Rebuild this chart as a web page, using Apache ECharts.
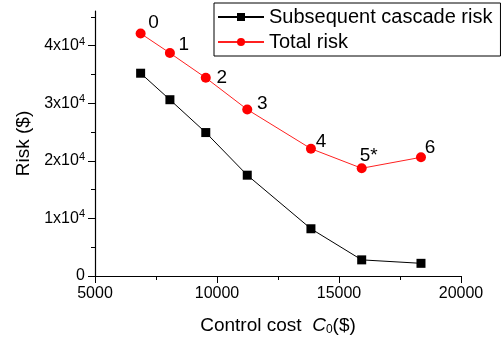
<!DOCTYPE html>
<html>
<head>
<meta charset="utf-8">
<script src="https://cdn.jsdelivr.net/npm/echarts@6/dist/echarts.min.js"></script>
<style>
  html, body { margin: 0; padding: 0; background: #fff; }
  #chart { width: 503px; height: 341px; }
</style>
</head>
<body>
<div id="chart"></div>
<script>
// control cost C0 for each scheme (x)
var controlCost = [6870, 8070, 9540, 11240, 13850, 15930, 18360];
var cascadeRisk = [35200, 30600, 24900, 17500, 8200, 2800, 2200];
var totalRisk = [42100, 38700, 34400, 28900, 22100, 18700, 20600];
var pointLabels = ["0", "1", "2", "3", "4", "5*", "6"];
var yTickValues = [0, 10000, 20000, 30000, 40000];

// label nudges so the numbers sit where the original put them
var labelOffsets = [[13, -11], [14, -8], [16, 0], [15, -6], [10, -7], [7, -13], [9, -10]];

var font = "Liberation Sans";

function pairs(xs, ys) {
  var out = [];
  for (var i = 0; i < xs.length; i++) {
    out.push([xs[i], ys[i]]);
  }
  return out;
}

var totalData = pairs(controlCost, totalRisk).map(function (p, i) {
  return {
    value: p,
    label: { formatter: pointLabels[i], offset: labelOffsets[i] }
  };
});

var chart = echarts.init(document.getElementById("chart"), null, { renderer: "canvas" });

chart.setOption({
  animation: false,
  grid: { left: 95, right: 42, top: 11, bottom: 65, containLabel: false },
  legend: {
    orient: "vertical",
    left: 214,
    top: 3,
    padding: [4, 8, 4, 3],
    itemGap: 5,
    itemWidth: 46,
    itemHeight: 10,
    borderColor: "#000",
    borderWidth: 1,
    borderRadius: 0,
    textStyle: { fontFamily: font, fontSize: 20, color: "#000", padding: [0, 0, 0, 0] },
    data: ["Subsequent cascade risk", "Total risk"]
  },
  xAxis: {
    type: "value",
    min: 5000,
    max: 20000,
    interval: 5000,
    name: "Control cost  {it|C}{sub|0}($)",
    nameLocation: "middle",
    nameGap: 40,
    nameTextStyle: {
      fontFamily: font, fontSize: 19, color: "#000",
      rich: {
        it: { fontFamily: font, fontSize: 19, fontStyle: "italic", color: "#000" },
        sub: { fontFamily: font, fontSize: 12, color: "#000", verticalAlign: "bottom", padding: [8, 0, 0, 0] }
      }
    },
    splitLine: { show: false },
    axisLine: { lineStyle: { color: "#000", width: 1.2 } },
    axisTick: { length: 7, lineStyle: { color: "#000" } },
    minorTick: { show: true, splitNumber: 2, length: 4, lineStyle: { color: "#000" } },
    axisLabel: {
      fontFamily: font, fontSize: 16, color: "#000", margin: 10,
      formatter: function (v) { return String(v); }
    }
  },
  yAxis: {
    type: "value",
    min: 0,
    max: 46000,
    interval: 10000,
    name: "Risk ($)",
    nameLocation: "middle",
    nameGap: 56,
    nameTextStyle: { fontFamily: font, fontSize: 19, color: "#000" },
    splitLine: { show: false },
    axisLine: { show: true, lineStyle: { color: "#000", width: 1.2 } },
    axisTick: { length: 7, customValues: yTickValues, lineStyle: { color: "#000" } },
    minorTick: { show: true, splitNumber: 2, length: 4, lineStyle: { color: "#000" } },
    axisLabel: {
      fontFamily: font, fontSize: 16, color: "#000", margin: 10,
      customValues: yTickValues,
      formatter: function (v) {
        if (v === 0) return "0";
        return (v / 10000) + "x10{sup|4}";
      },
      rich: {
        sup: { fontFamily: font, fontSize: 11, color: "#000", verticalAlign: "top", padding: [0, 0, 8, 0] }
      }
    }
  },
  series: [
    {
      name: "Subsequent cascade risk",
      type: "line",
      data: pairs(controlCost, cascadeRisk),
      symbol: "rect",
      symbolSize: 9,
      itemStyle: { color: "#000" },
      lineStyle: { color: "#000", width: 1 }
    },
    {
      name: "Total risk",
      type: "line",
      data: totalData,
      symbol: "circle",
      symbolSize: 10,
      itemStyle: { color: "#ff0000" },
      lineStyle: { color: "#ff2020", width: 1 },
      label: {
        show: true,
        position: "inside",
        fontFamily: font,
        fontSize: 19,
        color: "#000"
      }
    }
  ]
});
</script>
</body>
</html>
